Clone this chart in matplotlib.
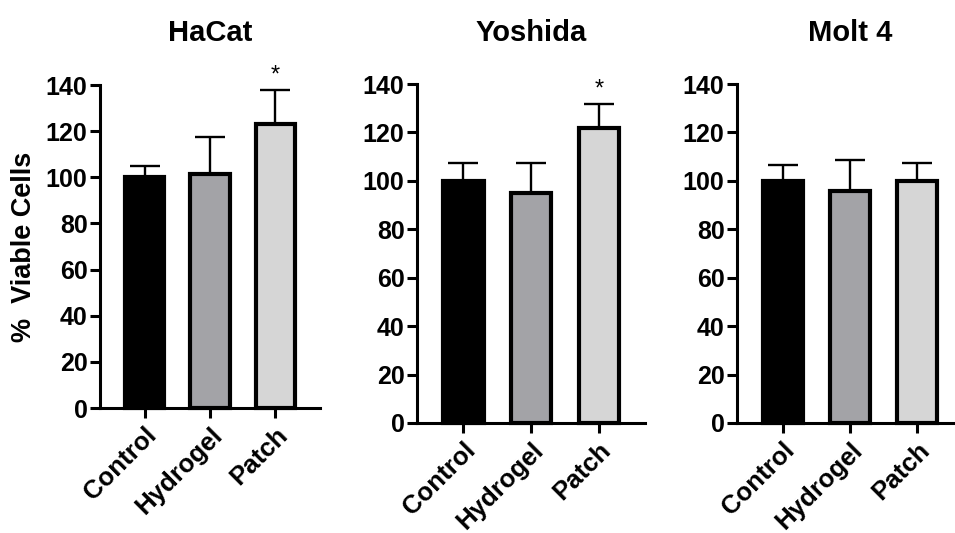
import matplotlib
matplotlib.use("Agg")
import matplotlib.pyplot as plt
import numpy as np

plt.rcParams["font.family"] = ["Liberation Sans", "DejaVu Sans"]
plt.rcParams["font.weight"] = "bold"

groups = ["Control", "Hydrogel", "Patch"]
titles = ["HaCat", "Yoshida", "Molt 4"]

hacat_mean = [100, 101.5, 123]
hacat_err = [5, 16, 15]
yoshida_mean = [100, 95, 122]
yoshida_err = [7.5, 12.3, 9.8]
molt4_mean = [100, 96, 100]
molt4_err = [6.4, 12.8, 7.5]

significant = [[False, False, True], [False, False, True], [False, False, False]]

bar_colors = ["#000000", "#A3A3A7", "#D6D6D6"]
y_ticks = [0, 20, 40, 60, 80, 100, 120, 140]

W, H = 955, 533
fig = plt.figure(figsize=(W / 100, H / 100), dpi=100)

# panel rectangles in pixels: left, right, bottom (y=0), top (y=140)
rects_px = [(100, 320, 408, 85), (417, 645, 423, 84), (737, 963, 423, 84)]

series = [(hacat_mean, hacat_err), (yoshida_mean, yoshida_err), (molt4_mean, molt4_err)]

x = np.arange(len(groups))
for i, ((l, r, b, t), (means, errs)) in enumerate(zip(rects_px, series)):
    ax = fig.add_axes([l / W, (H - b) / H, (r - l) / W, (b - t) / H])
    ax.bar(x, means, width=0.6, color=bar_colors, edgecolor="black",
           linewidth=3, zorder=3, clip_on=False)
    ax.errorbar(x, means, yerr=[np.zeros(len(errs)), errs], fmt="none",
                ecolor="black", elinewidth=1.7, capsize=11, capthick=1.7,
                zorder=2, clip_on=False)
    for xi, m, e, s in zip(x, means, errs, significant[i]):
        if s:
            ax.text(xi, m + e + 1.2, "*", ha="center", va="bottom",
                    fontsize=17, fontweight="normal", clip_on=False)
    ax.set_xlim(-0.68, 2.68)
    ax.set_ylim(0, 140)
    ax.set_yticks(y_ticks)
    ax.set_yticklabels([str(v) for v in y_ticks], fontsize=18, fontweight="bold")
    ax.set_xticks(x)
    ax.set_xticklabels(groups, rotation=45, ha="right", va="top",
                       rotation_mode="anchor", fontsize=18.5, fontweight="bold")
    for side in ("top", "right"):
        ax.spines[side].set_visible(False)
    for side in ("left", "bottom"):
        ax.spines[side].set_linewidth(2.2)
    ax.tick_params(axis="both", width=2.2, length=7, pad=2)
    ax.tick_params(axis="x", pad=4)
    fig.text((l + r) / 2 / W, (H - 41) / H, titles[i], ha="center",
             va="baseline", fontsize=21, fontweight="bold")
    if i == 0:
        ax.set_ylabel("%  Viable Cells", fontsize=19.5, fontweight="bold", labelpad=6)

fig.savefig("out.png", dpi=100)
